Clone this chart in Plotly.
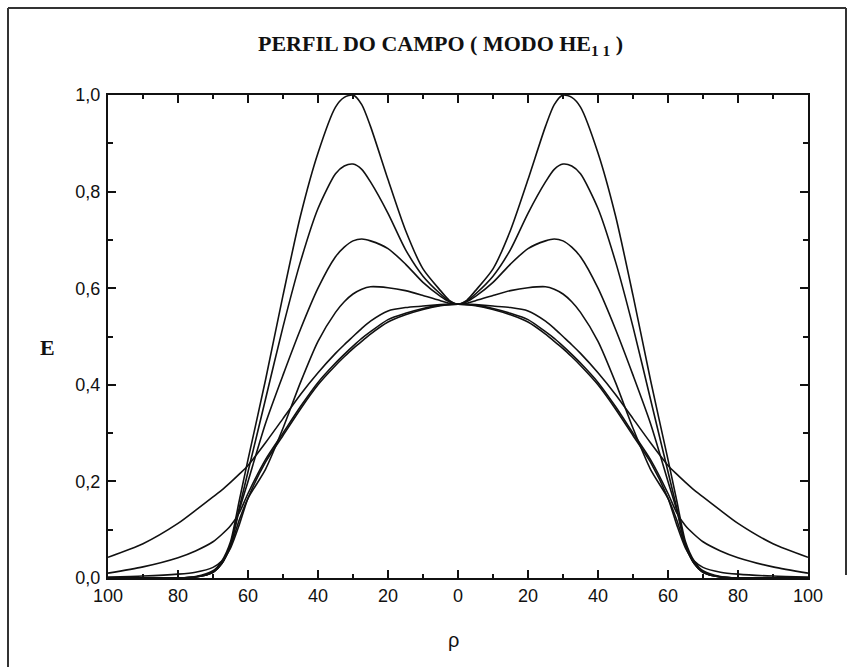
import plotly.graph_objects as go

# radial positions (half profile, symmetric about rho = 0)
rho = [0, 2.5, 5, 10, 15, 20, 25, 27.5, 30, 32.5, 35, 40, 45, 50, 55, 60, 62.5, 65, 67.5, 70, 75, 80, 90, 100]

curve_a = [0.567, 0.575, 0.595, 0.640, 0.720, 0.825, 0.935, 0.980, 1.000, 0.995, 0.975, 0.880, 0.750, 0.585, 0.410, 0.245, 0.160, 0.075, 0.035, 0.015, 0.003, 0.0, 0.0, 0.0]
curve_b = [0.567, 0.573, 0.588, 0.625, 0.680, 0.755, 0.820, 0.846, 0.857, 0.853, 0.837, 0.765, 0.655, 0.520, 0.370, 0.220, 0.145, 0.070, 0.030, 0.012, 0.002, 0.0, 0.0, 0.0]
curve_c = [0.567, 0.572, 0.583, 0.612, 0.650, 0.682, 0.698, 0.702, 0.698, 0.685, 0.665, 0.600, 0.515, 0.420, 0.320, 0.200, 0.140, 0.068, 0.030, 0.012, 0.002, 0.0, 0.0, 0.0]
curve_d = [0.567, 0.569, 0.574, 0.585, 0.595, 0.601, 0.603, 0.598, 0.588, 0.572, 0.550, 0.490, 0.405, 0.310, 0.225, 0.165, 0.120, 0.065, 0.030, 0.012, 0.002, 0.0, 0.0, 0.0]
curve_e = [0.567, 0.567, 0.566, 0.563, 0.560, 0.553, 0.532, 0.517, 0.500, 0.483, 0.465, 0.425, 0.380, 0.330, 0.280, 0.233, 0.215, 0.198, 0.182, 0.168, 0.140, 0.113, 0.071, 0.043]
curve_f = [0.567, 0.566, 0.565, 0.558, 0.548, 0.535, 0.510, 0.496, 0.480, 0.463, 0.445, 0.405, 0.355, 0.300, 0.245, 0.175, 0.135, 0.108, 0.090, 0.075, 0.056, 0.042, 0.023, 0.010]
curve_g = [0.567, 0.566, 0.564, 0.556, 0.545, 0.530, 0.505, 0.490, 0.475, 0.458, 0.440, 0.400, 0.350, 0.295, 0.240, 0.165, 0.110, 0.062, 0.035, 0.022, 0.012, 0.008, 0.004, 0.002]

curves = [curve_a, curve_b, curve_c, curve_d, curve_e, curve_f, curve_g]

x_tickvals = [-100, -80, -60, -40, -20, 0, 20, 40, 60, 80, 100]
x_ticktext = ["100", "80", "60", "40", "20", "0", "20", "40", "60", "80", "100"]
y_tickvals = [0.0, 0.2, 0.4, 0.6, 0.8, 1.0]
y_ticktext = ["0,0", "0,2", "0,4", "0,6", "0,8", "1,0"]

fig = go.Figure()
for c in curves:
    xs = [-r for r in rho[::-1]] + rho[1:]
    ys = c[::-1] + c[1:]
    fig.add_trace(go.Scatter(x=xs, y=ys, mode="lines",
                             line=dict(color="#111111", width=1.6, shape="spline", smoothing=0.7),
                             hoverinfo="skip", showlegend=False))

W, H = 855, 667
L, R, T, B = 108, 47, 95, 89
pw, ph = W - L - R, H - T - B

def px(xp):
    return (xp - L) / pw

def py(yp):
    return (H - B - yp) / ph

axis_common = dict(showgrid=False, zeroline=False, showline=True, linecolor="#111111", linewidth=2,
                   mirror="ticks", ticks="inside", tickcolor="#111111", tickwidth=1.5, ticklen=8,
                   tickfont=dict(family="Liberation Sans, Arial, sans-serif", size=18, color="#111111"))

fig.update_layout(
    width=W, height=H,
    margin=dict(l=L, r=R, t=T, b=B),
    paper_bgcolor="white", plot_bgcolor="white",
    xaxis=dict(range=[-100, 100], tickvals=x_tickvals, ticktext=x_ticktext,
               minor=dict(dtick=10, ticks="inside", ticklen=4, tickcolor="#111111", tickwidth=1.5),
               **axis_common),
    yaxis=dict(range=[0, 1.0], tickvals=y_tickvals, ticktext=y_ticktext, ticklabelstandoff=2,
               minor=dict(dtick=0.1, ticks="inside", ticklen=5, tickcolor="#111111", tickwidth=1.5),
               **axis_common),
    annotations=[
        dict(text="<b>PERFIL DO CAMPO ( MODO HE<sub>1 1</sub> )</b>", xref="paper", yref="paper",
             x=px(440), y=py(45), showarrow=False, xanchor="center", yanchor="middle",
             font=dict(family="Liberation Serif, Times New Roman, serif", size=22, color="#111111")),
        dict(text="<b>E</b>", xref="paper", yref="paper", x=px(47), y=py(347), showarrow=False,
             xanchor="center", yanchor="middle",
             font=dict(family="Liberation Serif, Times New Roman, serif", size=22, color="#111111")),
        dict(text="ρ", xref="paper", yref="paper", x=px(453), y=py(640), showarrow=False,
             xanchor="center", yanchor="middle",
             font=dict(family="Liberation Sans, Arial, sans-serif", size=20, color="#111111")),
    ],
    shapes=[
        dict(type="line", xref="paper", yref="paper", x0=px(8), x1=px(8), y0=py(8), y1=py(670),
             line=dict(color="#333333", width=2)),
        dict(type="line", xref="paper", yref="paper", x0=px(8), x1=px(846), y0=py(8), y1=py(8),
             line=dict(color="#333333", width=2)),
        dict(type="line", xref="paper", yref="paper", x0=px(846), x1=px(846), y0=py(8), y1=py(575),
             line=dict(color="#333333", width=2)),
    ],
)

fig.write_html("out.html")
